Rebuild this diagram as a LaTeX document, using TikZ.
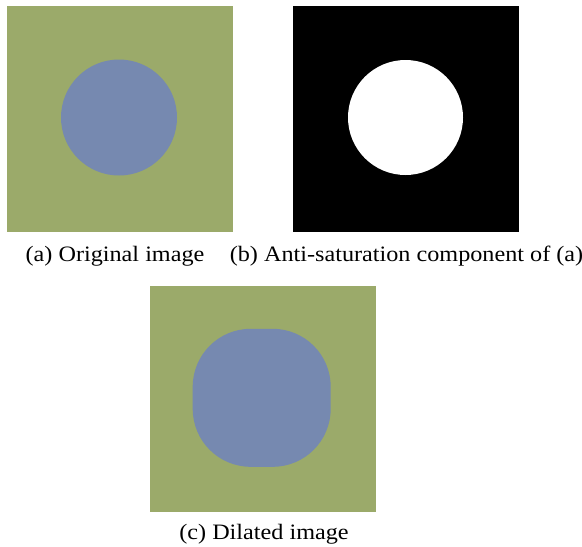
\documentclass[tikz,border=0pt]{standalone}
\usepackage{fontspec}
\setmainfont{Liberation Serif}
\definecolor{bgolive}{RGB}{155,170,106}
\definecolor{discblue}{RGB}{118,137,176}
\tikzset{
  panel/.style={inner sep=0pt, outer sep=0pt, minimum width=226pt, minimum height=226pt, draw=none},
  disc/.style={circle, inner sep=0pt, outer sep=0pt, draw=none},
  caption/.style={anchor=base, inner sep=0pt, xscale=1.1, font=\fontsize{22}{26}\selectfont}
}
\begin{document}
\begin{tikzpicture}[x=1pt,y=1pt]
\useasboundingbox[fill=white] (0,0) rectangle (582,-547);
% (a)
\node[panel, fill=bgolive] (imgA) at (120,-119) {};
\node[disc, fill=discblue, minimum size=116pt] (discA) at (119,-117.5) {};
% (b)
\node[panel, fill=black] (imgB) at (406.3,-119) {};
\node[disc, fill=white, minimum size=115pt] (discB) at (405.5,-117.5) {};
% (c)
\node[panel, fill=bgolive] (imgC) at (263,-399) {};
\node[rectangle, rounded corners=58pt, fill=discblue, minimum size=138pt, inner sep=0pt, draw=none] (discC) at (261.7,-397.8) {};
% captions
\node[caption] (capA) at (115,-261) {(a) Original image};
\node[caption] (capB) at (406.5,-261) {(b) Anti-saturation component of (a)};
\node[caption] (capC) at (264,-539) {(c) Dilated image};
\end{tikzpicture}
\end{document}
